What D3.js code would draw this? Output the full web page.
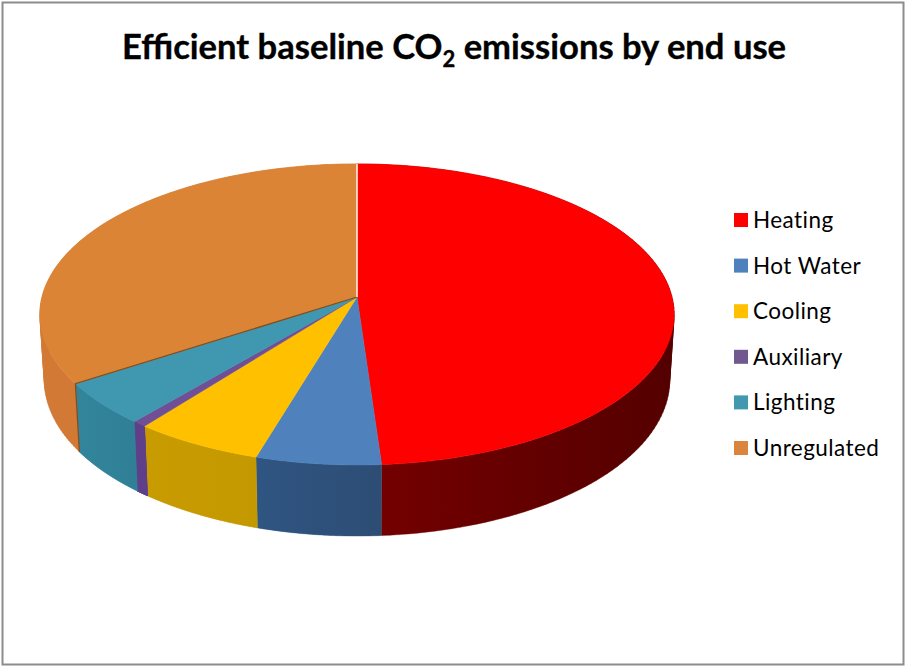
<!DOCTYPE html>
<html>
<head>
<meta charset="utf-8">
<script src="https://cdn.jsdelivr.net/npm/d3@7/dist/d3.min.js"></script>
<style>
  html, body { margin: 0; padding: 0; background: #fff; }
  svg { display: block; }
  text { font-family: Lato, "Open Sans", sans-serif; fill: #000; }
</style>
</head>
<body>
<svg id="chart" width="906" height="666"></svg>
<script>
// End-use shares of emissions, in percent
const categories = ["Heating", "Hot Water", "Cooling", "Auxiliary", "Lighting", "Unregulated"];
const shares = [48.9, 5.7, 5.9, 0.64, 4.65, 34.21];

const topColors = ["#ff0000", "#4f81bd", "#ffc000", "#6f4f96", "#3f97b0", "#dc8436"];
const legendColors = ["#ff0000", "#4f81bd", "#ffc000", "#71588f", "#4198af", "#db843d"];
const wallLeft = ["#760000", "#2f5582", "#c89c00", "#5f3f8a", "#33859c", "#d27a35"];
const wallRight = ["#540000", "#2d4d74", "#c49800", "#5f3f8a", "#2f8096", "#cf7a34"];

const svg = d3.select("#chart");
const defs = svg.append("defs");

// Perspective disc: hub position, radii and foreshortening of the tilted plane
const hubX = 357, hubY = 297, radiusX = 315, radiusY = 148.5, tilt = 0.116;
// Lower rim of the disc, slightly narrower and pushed down by the thickness
const lowerScaleX = 0.986, lowerShift = 65, lowerScaleY = 1.036;

const pieLayout = d3.pie().sort(null).value(d => d);
const arcs = pieLayout(shares);

function upper(angle, r = 1) {
  const u = r * Math.sin(angle), v = -r * Math.cos(angle);
  const w = 1 - tilt * v;
  return [hubX + radiusX * u / w, hubY + radiusY * v / w];
}
function lower(angle) {
  const [x, y] = upper(angle);
  return [hubX + (x - hubX) * lowerScaleX, hubY + lowerShift + (y - hubY) * lowerScaleY];
}
function sampleAngles(a0, a1) {
  return d3.range(0, 121).map(i => a0 + (a1 - a0) * i / 120);
}
const line = d3.line();

// Frame around the chart area
svg.append("rect")
  .attr("x", 2.5).attr("y", 2.5).attr("width", 901).attr("height", 662)
  .attr("fill", "#fff").attr("stroke", "#8c8c8c").attr("stroke-width", 2);

// Outer walls first, so the top faces cover their far side.
// Each wall is a run of same-wound quads, which keeps the silhouette straight at the disc's extremes.
arcs.forEach((d, i) => {
  const id = "wall-" + i;
  const grad = defs.append("linearGradient").attr("id", id);
  grad.append("stop").attr("offset", "0%").attr("stop-color", wallLeft[i]);
  grad.append("stop").attr("offset", "100%").attr("stop-color", wallRight[i]);
  const angles = sampleAngles(d.startAngle, d.endAngle);
  const quads = d3.pairs(angles).map(([a, b]) => {
    const quad = [upper(a), upper(b), lower(b), lower(a)];
    if (d3.polygonArea(quad) < 0) quad.reverse();
    return line(quad) + "Z";
  });
  svg.append("path")
    .attr("d", quads.join(""))
    .attr("fill", `url(#${id})`)
    .attr("stroke", `url(#${id})`)
    .attr("stroke-width", 0.4);
});

// Top faces
arcs.forEach((d, i) => {
  const rim = sampleAngles(d.startAngle, d.endAngle).map(a => upper(a));
  svg.append("path")
    .attr("d", line([[hubX, hubY], ...rim]) + "Z")
    .attr("fill", topColors[i])
    .attr("stroke", topColors[i])
    .attr("stroke-width", 0.5);
});

// Dark seam where the last slice meets the one before it, across the top and down the wall
const seam = arcs[arcs.length - 1].startAngle;
svg.append("path")
  .attr("d", line([[hubX, hubY], upper(seam), lower(seam)]))
  .attr("fill", "none").attr("stroke", "#7d4f22").attr("stroke-width", 1.3);

// Pale gap at twelve o'clock between the first and last slices
svg.append("path")
  .attr("d", line([upper(0), [hubX, hubY]]))
  .attr("fill", "none").attr("stroke", "#fbeee2").attr("stroke-width", 1.6);

// Title with subscript
const title = svg.append("text")
  .attr("x", 454).attr("y", 59)
  .attr("text-anchor", "middle")
  .attr("font-size", 34.6).attr("font-weight", 700)
  .attr("stroke", "#000").attr("stroke-width", 0.35);
title.append("tspan").text("Efficient baseline CO");
title.append("tspan").attr("font-size", 22).attr("dy", 8).text("2");
title.append("tspan").attr("dy", -8).text(" emissions by end use");

// Legend
const legendY = d3.scalePoint().domain(categories).range([220, 448]);
const legend = svg.append("g").selectAll("g").data(categories).join("g")
  .attr("transform", d => `translate(734,${legendY(d)})`);
legend.append("rect")
  .attr("x", 0).attr("y", -7).attr("width", 14).attr("height", 14)
  .attr("fill", (d, i) => legendColors[i]);
legend.append("text")
  .attr("x", 19).attr("y", 8)
  .attr("font-size", 22.5)
  .attr("letter-spacing", 0.45)
  .text(d => d);
</script>
</body>
</html>
